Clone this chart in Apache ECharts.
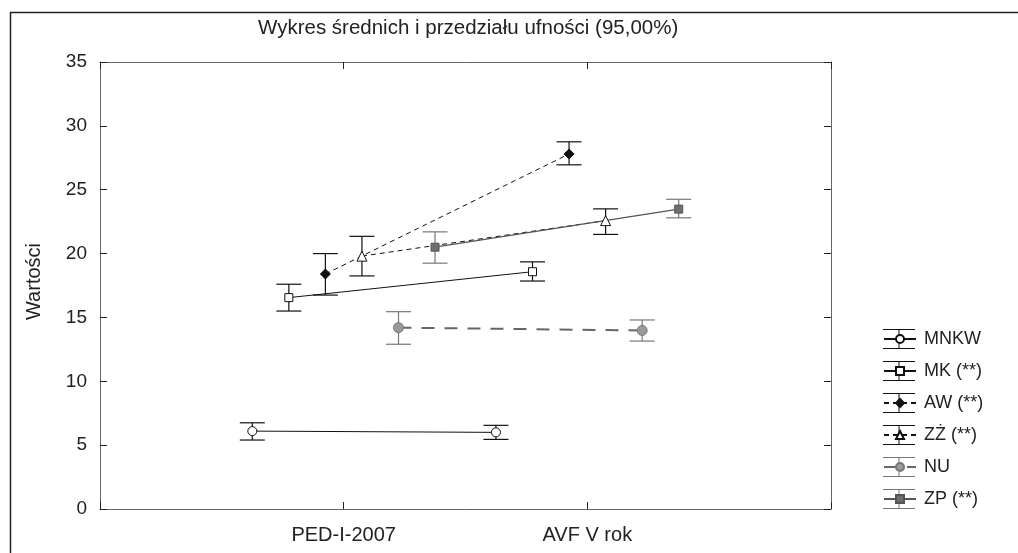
<!DOCTYPE html>
<html>
<head>
<meta charset="utf-8">
<script src="https://cdn.jsdelivr.net/npm/echarts@6/dist/echarts.min.js"></script>
<style>
  html, body { margin: 0; padding: 0; background: #fff; }
  #chart { width: 1018px; height: 553px; }
</style>
</head>
<body>
<div id="chart"></div>
<script>
// kategorie na osi X
const categories = ['PED-I-2007', 'AVF V rok']

// średnie i granice przedziału ufności
const mnkwMean = [6.1, 6.0]
const mnkwLow = [5.4, 5.45]
const mnkwHigh = [6.75, 6.55]

const mkMean = [16.55, 18.58]
const mkLow = [15.5, 17.85]
const mkHigh = [17.6, 19.35]

const awMean = [18.4, 27.8]
const awLow = [16.75, 26.95]
const awHigh = [20.0, 28.75]

const zzMean = [19.8, 22.58]
const zzLow = [18.25, 21.5]
const zzHigh = [21.35, 23.5]

const nuMean = [14.2, 13.98]
const nuLow = [12.9, 13.15]
const nuHigh = [15.45, 14.8]

const zpMean = [20.5, 23.48]
const zpLow = [19.25, 22.8]
const zpHigh = [21.7, 24.25]

const yTicks = [0, 5, 10, 15, 20, 25, 30, 35]

const FONT = '"Liberation Sans", Arial, sans-serif'

// wygląd serii
const styles = [
  { name: 'MNKW', mean: mnkwMean, low: mnkwLow, high: mnkwHigh, symbol: 'circle', size: 9,
    fill: '#fff', border: '#111', line: '#111', type: 'solid', width: 1, bar: '#111' },
  { name: 'MK (**)', mean: mkMean, low: mkLow, high: mkHigh, symbol: 'rect', size: 8,
    fill: '#fff', border: '#111', line: '#111', type: 'solid', width: 1, bar: '#111' },
  { name: 'AW (**)', mean: awMean, low: awLow, high: awHigh, symbol: 'diamond', size: 10,
    fill: '#111', border: '#111', line: '#111', type: [5, 4], width: 1, bar: '#111' },
  { name: 'ZŻ (**)', mean: zzMean, low: zzLow, high: zzHigh, symbol: 'triangle', size: 10,
    fill: '#fff', border: '#111', line: '#111', type: [5, 4], width: 1, bar: '#111' },
  { name: 'NU', mean: nuMean, low: nuLow, high: nuHigh, symbol: 'circle', size: 10,
    fill: '#9a9a9a', border: '#777', line: '#666', type: [13, 10], width: 2, bar: '#777' },
  { name: 'ZP (**)', mean: zpMean, low: zpLow, high: zpHigh, symbol: 'rect', size: 8,
    fill: '#6e6e6e', border: '#555', line: '#555', type: 'solid', width: 1.3, bar: '#777' }
]

// przesunięcie serii względem kategorii
const xPos = (s, i) => i + 1 + (s - 2.5) * 0.15

const series = []
styles.forEach((st, s) => {
  series.push({
    name: st.name + '-ci',
    type: 'custom',
    z: 2,
    silent: true,
    data: categories.map((c, i) => [xPos(s, i), st.low[i], st.high[i]]),
    encode: { x: 0, y: [1, 2] },
    renderItem: (params, api) => {
      const x = api.value(0)
      const lo = api.coord([x, api.value(1)])
      const hi = api.coord([x, api.value(2)])
      const h = 12.5
      const style = { stroke: st.bar, lineWidth: 1.2 }
      return {
        type: 'group',
        children: [
          { type: 'line', shape: { x1: lo[0], y1: lo[1], x2: hi[0], y2: hi[1] }, style },
          { type: 'line', shape: { x1: hi[0] - h, y1: hi[1], x2: hi[0] + h, y2: hi[1] }, style },
          { type: 'line', shape: { x1: lo[0] - h, y1: lo[1], x2: lo[0] + h, y2: lo[1] }, style }
        ]
      }
    }
  })
  series.push({
    name: st.name,
    type: 'line',
    z: 3,
    data: categories.map((c, i) => [xPos(s, i), st.mean[i]]),
    symbol: st.symbol,
    symbolSize: st.size,
    showSymbol: true,
    itemStyle: { color: st.fill, borderColor: st.border, borderWidth: 1 },
    lineStyle: { color: st.line, type: st.type, width: st.width }
  })
})

const barIcon = 'path://M0,0H32V1H0Z M0,19H32V20H0Z M15.5,0H16.5V20H15.5Z'

const frameAxisLine = { show: true, onZero: false, lineStyle: { color: '#666', width: 1 } }
const frameTick = { show: true, inside: true, length: 7, lineStyle: { color: '#222' } }

const chart = echarts.init(document.getElementById('chart'))
chart.setOption({
  animation: false,
  backgroundColor: '#fff',
  textStyle: { fontFamily: FONT },
  title: {
    text: 'Wykres średnich i przedziału ufności (95,00%)',
    left: 258,
    top: 18,
    padding: 0,
    textStyle: { fontFamily: FONT, fontSize: 20.5, fontWeight: 'normal', color: '#222' }
  },
  graphic: [{
    type: 'rect',
    left: 8,
    top: 10,
    shape: { width: 1100, height: 600 },
    style: { fill: 'none', stroke: '#222', lineWidth: 1.5 },
    silent: true
  }],
  grid: { left: 100, right: 187, top: 62, bottom: 44 },
  xAxis: [{
    type: 'value',
    min: 0,
    max: 3,
    interval: 1,
    position: 'bottom',
    splitLine: { show: false },
    axisLine: frameAxisLine,
    axisTick: frameTick,
    axisLabel: {
      margin: 16,
      fontSize: 20,
      color: '#222',
      fontFamily: FONT,
      formatter: v => (v === 1 ? categories[0] : v === 2 ? categories[1] : '')
    }
  }, {
    type: 'value',
    min: 0,
    max: 3,
    interval: 1,
    position: 'top',
    splitLine: { show: false },
    axisLine: frameAxisLine,
    axisTick: frameTick,
    axisLabel: { show: false }
  }],
  yAxis: [{
    type: 'value',
    min: yTicks[0],
    max: yTicks[yTicks.length - 1],
    interval: 5,
    position: 'left',
    name: 'Wartości',
    nameLocation: 'middle',
    nameGap: 56,
    nameTextStyle: { fontSize: 20, color: '#222', fontFamily: FONT, padding: [0, 0, 0, 8] },
    splitLine: { show: false },
    axisLine: frameAxisLine,
    axisTick: frameTick,
    axisLabel: { margin: 13, fontSize: 19, color: '#222', fontFamily: FONT }
  }, {
    type: 'value',
    min: yTicks[0],
    max: yTicks[yTicks.length - 1],
    interval: 5,
    position: 'right',
    splitLine: { show: false },
    axisLine: frameAxisLine,
    axisTick: frameTick,
    axisLabel: { show: false }
  }],
  legend: [{
    orient: 'vertical',
    left: 883,
    top: 329,
    padding: 0,
    itemWidth: 32,
    itemHeight: 20,
    itemGap: 12,
    selectedMode: false,
    icon: barIcon,
    textStyle: { fontSize: 18, color: '#222', fontFamily: FONT, padding: [0, 0, 0, 4] },
    data: styles.map(st => ({ name: st.name, itemStyle: { color: st.bar, borderWidth: 0 } }))
  }, {
    orient: 'vertical',
    left: 883,
    top: 334,
    padding: 0,
    itemWidth: 32,
    itemHeight: 10,
    itemGap: 22,
    selectedMode: false,
    formatter: () => '',
    textStyle: { fontSize: 8, lineHeight: 8 },
    data: styles.map(st => st.name)
  }],
  series
})
</script>
</body>
</html>
